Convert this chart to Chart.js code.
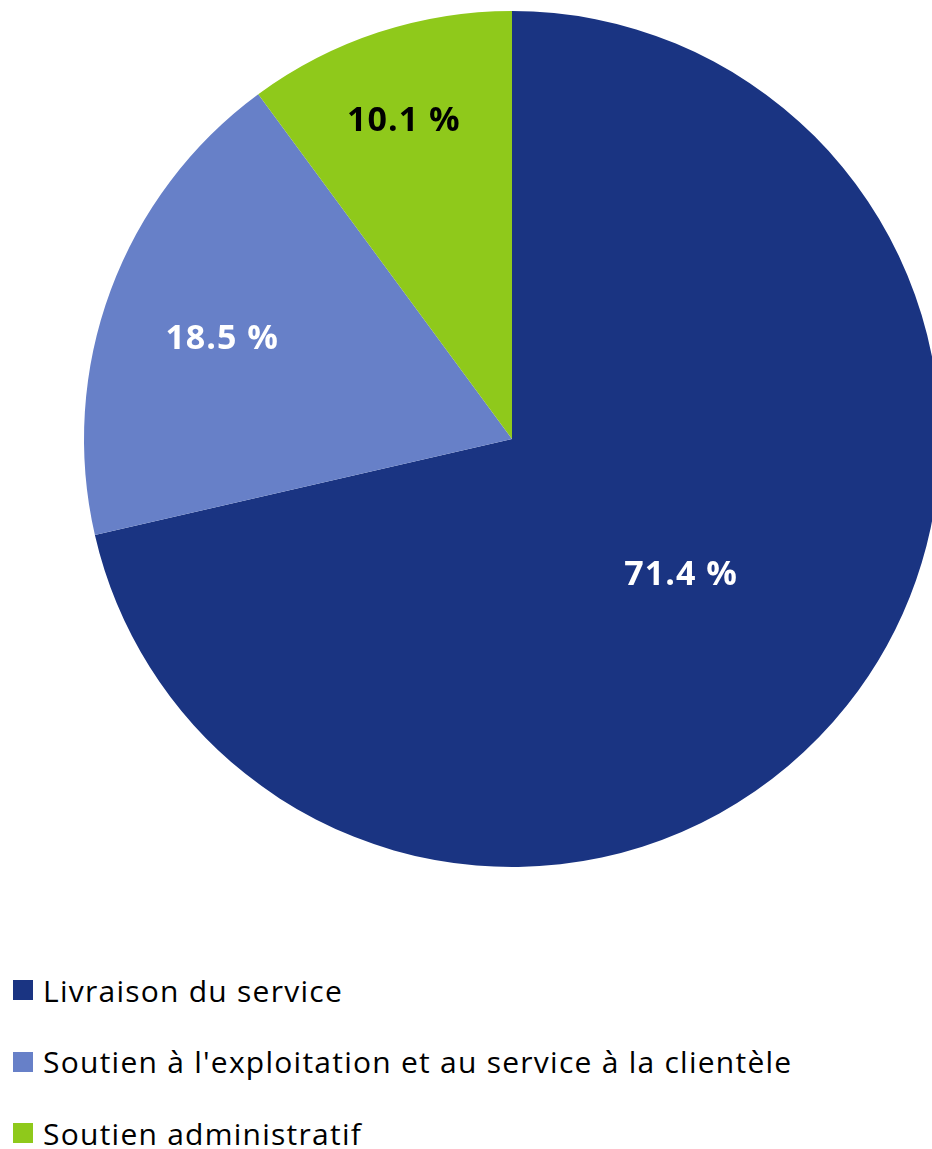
<!DOCTYPE html>
<html lang="fr">
<head>
  <meta charset="UTF-8" />
  <title>Répartition</title>
  <script src="https://cdn.jsdelivr.net/npm/chart.js"></script>
  <style>
    html, body { margin: 0; padding: 0; background: #fff; overflow: hidden; }
    body { width: 932px; height: 1149px; position: relative; font-family: "Open Sans", sans-serif; }
    #chart { position: absolute; left: 0; top: 0; }
    #legend { position: absolute; left: 13px; top: 970px; margin: 0; padding: 0; list-style: none; }
    #legend li { display: flex; align-items: center; height: 40px; margin-bottom: 31.5px; font-size: 30px; letter-spacing: 1.25px; color: #000; font-variant-ligatures: none; white-space: nowrap; }
    #legend span.box { width: 20px; height: 20px; margin-right: 10px; flex: none; }
  </style>
</head>
<body>
  <canvas id="chart" width="1024" height="880"></canvas>
  <ul id="legend"></ul>

  <script>
    const labels = ['Livraison du service', "Soutien à l'exploitation et au service à la clientèle", 'Soutien administratif'];
    const values = [71.4, 18.5, 10.1];
    const colors = ['#1a3482', '#6780c8', '#8fc91b'];
    const labelColors = ['#fff', '#fff', '#000'];
    const labelRadius = [0.507, 0.716, 0.785]; // fraction du rayon
    const labelShift = [0.3, -1.4, -0.6];       // décalage angulaire (degrés)

    // étiquettes de pourcentage sur les parts
    const sliceLabels = {
      id: 'sliceLabels',
      afterDatasetsDraw(chart) {
        const c = chart.ctx;
        const meta = chart.getDatasetMeta(0);
        c.save();
        c.font = 'bold 34px "Open Sans", sans-serif';
        c.letterSpacing = '1px';
        c.textAlign = 'center';
        c.textBaseline = 'middle';
        meta.data.forEach((arc, i) => {
          const p = arc.getProps(['x', 'y', 'startAngle', 'endAngle', 'outerRadius'], true);
          const mid = (p.startAngle + p.endAngle) / 2 + labelShift[i] * Math.PI / 180;
          const r = p.outerRadius * labelRadius[i];
          c.fillStyle = labelColors[i];
          c.fillText(values[i].toFixed(1) + ' %', p.x + Math.cos(mid) * r, p.y + Math.sin(mid) * r);
        });
        c.restore();
      }
    };

    new Chart(document.getElementById('chart').getContext('2d'), {
      type: 'pie',
      data: {
        labels: labels,
        datasets: [{
          data: values,
          backgroundColor: colors,
          borderWidth: 0
        }]
      },
      options: {
        responsive: false,
        animation: false,
        layout: { padding: { top: 11, bottom: 13 } },
        plugins: {
          legend: { display: false },
          tooltip: { enabled: false }
        }
      },
      plugins: [sliceLabels]
    });

    const legend = document.getElementById('legend');
    labels.forEach((l, i) => {
      const li = document.createElement('li');
      li.innerHTML = '<span class="box" style="background:' + colors[i] + '"></span>';
      li.appendChild(document.createTextNode(l));
      legend.appendChild(li);
    });
  </script>
</body>
</html>
